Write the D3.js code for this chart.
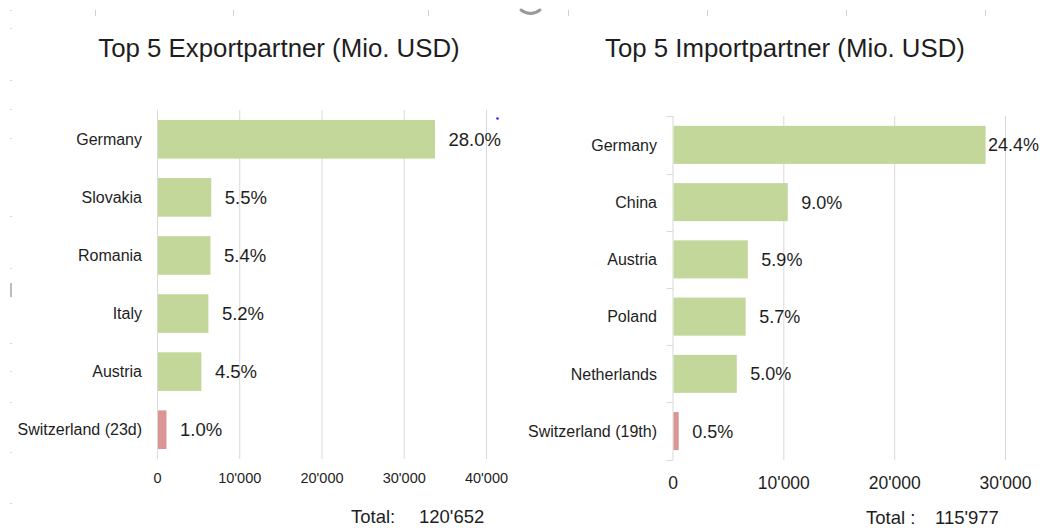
<!DOCTYPE html>
<html>
<head>
<meta charset="utf-8">
<script src="https://cdn.jsdelivr.net/npm/d3@7"></script>
<style>
  html, body { margin: 0; padding: 0; background: #fff; }
  svg { display: block; font-family: "Liberation Sans", Arial, sans-serif; }
</style>
</head>
<body>
<svg id="chart" width="1042" height="528"></svg>
<script>
// ---- Data ----
const exportCountries = ["Germany", "Slovakia", "Romania", "Italy", "Austria", "Switzerland (23d)"];
const exportValues    = [33800, 6600, 6500, 6250, 5400, 1150];
const exportShares    = ["28.0%", "5.5%", "5.4%", "5.2%", "4.5%", "1.0%"];
const exportTicks     = [0, 10000, 20000, 30000, 40000];
const exportTitle     = "Top 5 Exportpartner (Mio. USD)";
const exportTotalLbl  = "Total:";
const exportTotal     = "120'652";

const importCountries = ["Germany", "China", "Austria", "Poland", "Netherlands", "Switzerland (19th)"];
const importValues    = [28250, 10400, 6800, 6600, 5800, 560];
const importShares    = ["24.4%", "9.0%", "5.9%", "5.7%", "5.0%", "0.5%"];
const importTicks     = [0, 10000, 20000, 30000];
const importTitle     = "Top 5 Importpartner (Mio. USD)";
const importTotalLbl  = "Total :";
const importTotal     = "115'977";

// ---- Styles ----
const GREEN = "#c4d79b", PINK = "#d99694", GRID = "#d9d9d9", TEXT = "#1e1e1e";
const fmt = v => d3.format(",")(v).replace(/,/g, "'");

const svg = d3.select("#chart");

function drawPanel(cfg) {
  const g = svg.append("g");
  const x = d3.scaleLinear().domain([0, cfg.xMax]).range([cfg.x0, cfg.x1]);
  const y = d3.scaleBand().domain(cfg.cats).range([cfg.y0, cfg.y1])
              .paddingInner(0.335).paddingOuter(0.172);

  // title
  g.append("text").attr("x", cfg.titleX).attr("y", 57)
    .attr("text-anchor", "middle").attr("font-size", 25.8).attr("fill", TEXT)
    .text(cfg.title);

  // gridlines
  g.append("g").selectAll("line").data(cfg.ticks).join("line")
    .attr("x1", d => x(d) + 0.5).attr("x2", d => x(d) + 0.5)
    .attr("y1", cfg.y0).attr("y2", cfg.y1)
    .attr("stroke", GRID).attr("stroke-width", 1);

  // category tick marks (right panel)
  if (cfg.catTicks) {
    const bounds = cfg.cats.map(c => y(c) - y.step() * y.paddingInner() / 2);
    bounds.push(cfg.y1);
    bounds[0] = cfg.y0;
    g.append("g").selectAll("line").data(bounds).join("line")
      .attr("x1", x(0) - 6).attr("x2", x(0) + 0.5)
      .attr("y1", d => Math.round(d) + 0.5).attr("y2", d => Math.round(d) + 0.5)
      .attr("stroke", GRID).attr("stroke-width", 1);
  }

  // x tick labels via axis
  const ax = g.append("g").attr("transform", `translate(0,${cfg.tickY})`)
    .call(d3.axisBottom(x).tickValues(cfg.ticks).tickFormat(fmt).tickSize(0).tickPadding(0));
  ax.select(".domain").remove();
  ax.selectAll("text").attr("font-size", cfg.tickFont).attr("fill", TEXT)
    .attr("font-family", '"Liberation Sans", Arial, sans-serif').attr("dy", "0");

  // bars
  const rows = cfg.cats.map((c, i) => ({ c, v: cfg.vals[i], s: cfg.shares[i], i }));
  g.append("g").selectAll("rect").data(rows).join("rect")
    .attr("x", x(0) + 1).attr("y", d => y(d.c))
    .attr("width", d => x(d.v) - x(0) - 1).attr("height", y.bandwidth())
    .attr("fill", d => d.i === rows.length - 1 ? PINK : GREEN);

  // category labels
  g.append("g").selectAll("text").data(rows).join("text")
    .attr("x", cfg.catX).attr("y", d => y(d.c) + y.bandwidth() / 2)
    .attr("dy", "0.36em").attr("text-anchor", "end")
    .attr("font-size", 16).attr("fill", TEXT).text(d => d.c);

  // value labels
  const vl = g.append("g").selectAll("text").data(rows).join("text")
    .attr("y", d => y(d.c) + y.bandwidth() / 2)
    .attr("dy", "0.36em").attr("font-size", cfg.valFont).attr("fill", TEXT)
    .text(d => d.s);
  vl.attr("x", function(d) {
    const w = this.getComputedTextLength();
    return Math.min(x(d.v) + 13.5, cfg.labelLimit - w);
  });

  // total
  g.append("text").attr("x", cfg.totalX).attr("y", cfg.totalY)
    .attr("font-size", 18.5).attr("fill", TEXT).text(cfg.totalLbl);
  g.append("text").attr("x", cfg.totalNumX).attr("y", cfg.totalY)
    .attr("font-size", 18.5).attr("fill", TEXT).text(cfg.total);
}

drawPanel({
  cats: exportCountries, vals: exportValues, shares: exportShares, ticks: exportTicks,
  title: exportTitle, titleX: 279, xMax: 40000, x0: 157, x1: 486, y0: 110, y1: 459,
  tickY: 483, tickFont: 14.5, catX: 142, valFont: 18.5, labelLimit: 515,
  totalLbl: exportTotalLbl, total: exportTotal, totalX: 351, totalNumX: 419, totalY: 523,
  catTicks: false
});

drawPanel({
  cats: importCountries, vals: importValues, shares: importShares, ticks: importTicks,
  title: importTitle, titleX: 785, xMax: 30000, x0: 672.5, x1: 1005, y0: 116, y1: 460,
  tickY: 489, tickFont: 17.5, catX: 657, valFont: 18, labelLimit: 1039,
  totalLbl: importTotalLbl, total: importTotal, totalX: 866, totalNumX: 935, totalY: 524,
  catTicks: true
});

// ---- small screenshot artefacts (decorative) ----
const deco = svg.append("g").attr("fill", "none");
const topTicks = [95, 233, 428, 568, 707, 846, 985];
deco.selectAll("line.tt").data(topTicks).join("line")
  .attr("x1", d => d + 0.5).attr("x2", d => d + 0.5).attr("y1", 10).attr("y2", 16)
  .attr("stroke", "#d0d0d0").attr("stroke-width", 1);
deco.append("path").attr("d", "M521,10 Q530.5,17 540,10")
  .attr("stroke", "#9a9a9a").attr("stroke-width", 3).attr("stroke-linecap", "round");
const leftDots = [10, 28, 80, 109, 138, 216, 268, 343, 371, 402, 452, 503];
deco.selectAll("rect.ld").data(leftDots).join("rect")
  .attr("x", 10).attr("y", d => d).attr("width", 2).attr("height", 1).attr("fill", "#d8d8d8");
deco.append("rect").attr("x", 10).attr("y", 283).attr("width", 2).attr("height", 14).attr("fill", "#bdbdbd");
deco.append("circle").attr("cx", 497.5).attr("cy", 118.5).attr("r", 1.3).attr("fill", "#2b2bff");
</script>
</body>
</html>
